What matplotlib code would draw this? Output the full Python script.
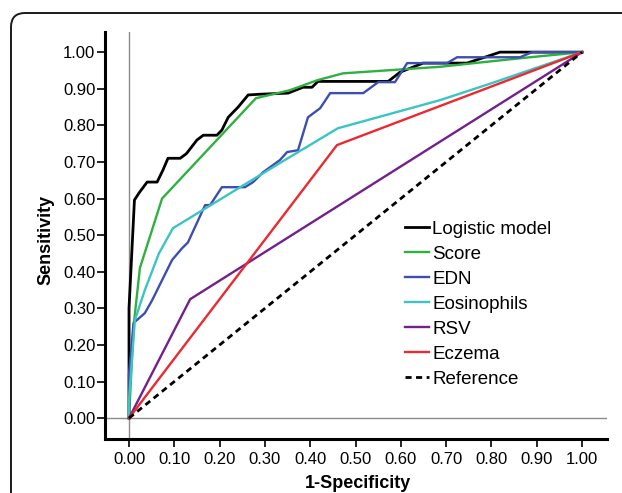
import matplotlib
matplotlib.use("Agg")
import matplotlib.pyplot as plt
from matplotlib.patches import FancyBboxPatch

# ROC curves (1-specificity, sensitivity)
logistic_fpr = [0.0, 0.0, 0.012, 0.022, 0.04, 0.062, 0.075, 0.086, 0.113, 0.127, 0.15,
                0.164, 0.194, 0.205, 0.219, 0.23, 0.241, 0.263, 0.289, 0.351, 0.384,
                0.404, 0.417, 0.572, 0.598, 0.649, 0.746, 0.819, 0.885, 1.0]
logistic_tpr = [0.0, 0.30, 0.596, 0.615, 0.645, 0.645, 0.678, 0.71, 0.71, 0.723, 0.76,
                0.773, 0.773, 0.787, 0.822, 0.836, 0.85, 0.883, 0.885, 0.888, 0.904,
                0.904, 0.92, 0.92, 0.945, 0.97, 0.97, 1.0, 1.0, 1.0]

score_fpr = [0.0, 0.01, 0.024, 0.073, 0.28, 0.355, 0.415, 0.472, 0.687, 0.80, 0.885, 1.0]
score_tpr = [0.0, 0.25, 0.41, 0.60, 0.874, 0.896, 0.923, 0.942, 0.96, 0.975, 0.986, 1.0]

edn_fpr = [0.0, 0.0, 0.01, 0.022, 0.035, 0.051, 0.073, 0.095, 0.117, 0.13, 0.168, 0.179,
           0.205, 0.256, 0.274, 0.296, 0.333, 0.349, 0.373, 0.395, 0.422, 0.444, 0.517,
           0.55, 0.587, 0.614, 0.702, 0.724, 0.863, 0.89, 1.0]
edn_tpr = [0.0, 0.12, 0.26, 0.273, 0.287, 0.322, 0.377, 0.432, 0.464, 0.48, 0.582, 0.582,
           0.631, 0.631, 0.645, 0.672, 0.705, 0.727, 0.732, 0.822, 0.847, 0.888, 0.888,
           0.918, 0.918, 0.97, 0.97, 0.986, 0.986, 1.0, 1.0]

eos_fpr = [0.0, 0.0, 0.013, 0.035, 0.066, 0.097, 0.333, 0.461, 0.687, 0.80, 1.0]
eos_tpr = [0.0, 0.05, 0.268, 0.35, 0.45, 0.519, 0.697, 0.792, 0.869, 0.915, 1.0]

rsv_fpr = [0.0, 0.135, 1.0]
rsv_tpr = [0.0, 0.325, 1.0]

eczema_fpr = [0.0, 0.459, 1.0]
eczema_tpr = [0.0, 0.746, 1.0]

ref_fpr = [0.0, 1.0]
ref_tpr = [0.0, 1.0]

ticks = [0.0, 0.1, 0.2, 0.3, 0.4, 0.5, 0.6, 0.7, 0.8, 0.9, 1.0]

plt.rcParams["font.family"] = ["Liberation Sans", "DejaVu Sans"]

fig = plt.figure(figsize=(6.22, 4.93), dpi=100)
ax = fig.add_axes([0.1688, 0.1095, 0.8071, 0.8256])

# rounded frame around the whole figure (pixel coordinates)
frame = FancyBboxPatch((11, -30), 660, 510, boxstyle="round,pad=0,rounding_size=14",
                       transform=None, facecolor="none", edgecolor="#1a1a1a",
                       linewidth=1.4, zorder=0)
fig.patches.append(frame)

# grey zero lines
ax.axvline(0, color="#8a8a8a", linewidth=1.0, zorder=1)
ax.axhline(0, color="#8a8a8a", linewidth=1.0, zorder=1)

ax.plot(logistic_fpr, logistic_tpr, color="#000000", lw=2.0, label="Logistic model", zorder=2)
ax.plot(score_fpr, score_tpr, color="#2fb040", lw=1.7, label="Score", zorder=3)
ax.plot(edn_fpr, edn_tpr, color="#3c4fb0", lw=1.7, label="EDN", zorder=4)
ax.plot(eos_fpr, eos_tpr, color="#3cc3c3", lw=1.7, label="Eosinophils", zorder=5)
ax.plot(rsv_fpr, rsv_tpr, color="#73208c", lw=1.7, label="RSV", zorder=6)
ax.plot(eczema_fpr, eczema_tpr, color="#ea2a30", lw=1.7, label="Eczema", zorder=7)
ax.plot(ref_fpr, ref_tpr, color="#000000", lw=2.0, linestyle=(0, (2.2, 1.6)),
        label="Reference", zorder=8)

ax.set_xlim(-0.053, 1.055)
ax.set_ylim(-0.057, 1.055)
ax.set_xticks(ticks)
ax.set_yticks(ticks)
ax.set_xticklabels([f"{t:.2f}" for t in ticks])
ax.set_yticklabels([f"{t:.2f}" for t in ticks])

for side in ("top", "right"):
    ax.spines[side].set_visible(False)
for side in ("left", "bottom"):
    ax.spines[side].set_linewidth(2.2)
    ax.spines[side].set_color("#000000")

ax.tick_params(axis="both", direction="out", length=5.5, width=1.2, labelsize=12,
               colors="#000000")
ax.tick_params(axis="y", pad=1.5)
ax.tick_params(axis="x", pad=3.5)

ax.set_xlabel("1-Specificity", fontsize=13, fontweight="bold")
ax.set_ylabel("Sensitivity", fontsize=13, fontweight="bold")
ax.xaxis.set_label_coords(0.504, -0.088)
ax.yaxis.set_label_coords(-0.101, 0.49)

ax.legend(loc="upper left", bbox_to_anchor=(0.598, 0.537), frameon=False,
          fontsize=13.5, handlelength=1.25, handletextpad=0.2, labelspacing=0.42,
          borderpad=0, borderaxespad=0)

fig.savefig("out.png", dpi=100)
plt.close(fig)
